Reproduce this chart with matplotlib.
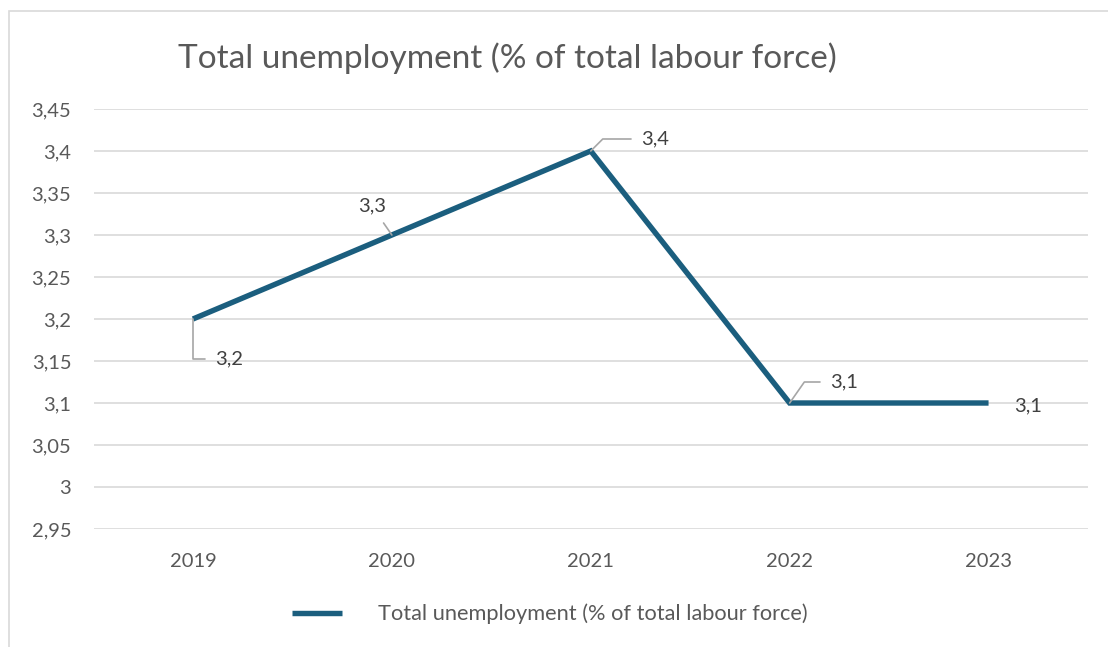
import matplotlib.pyplot as plt
from matplotlib.patches import Rectangle
from matplotlib.ticker import FuncFormatter

years = ['2019', '2020', '2021', '2022', '2023']
unemployment = [3.2, 3.3, 3.4, 3.1, 3.1]
series_name = 'Total unemployment (% of total labour force)'

# label offsets in pixels, and leader style for each point
label_offsets = [(36, -40), (-20, 29), (64, 12), (54, 21), (40, -3)]
leader_styles = ['angle,angleA=0,angleB=90,rad=0', 'arc3,rad=0',
                 'angle,angleA=0,angleB=45,rad=0', 'angle,angleA=0,angleB=55,rad=0', None]

plt.rcParams['font.family'] = ['Lato', 'DejaVu Sans']
line_color = '#1b5e7e'
text_grey = '#595959'

fig = plt.figure(figsize=(11.08, 6.47), dpi=100)
fig.patch.set_facecolor('white')
ax = fig.add_axes([93.5 / 1108, 118 / 647, 994.5 / 1108, 420 / 647])

# chart frame (only top and left edges fall inside the image)
fig.patches.append(Rectangle((9 / 1108, -0.1), 1.2, (647 - 11) / 647 + 0.1,
                             transform=fig.transFigure, fill=False,
                             edgecolor='#d9d9d9', linewidth=1.2))

x = list(range(len(years)))
ax.plot(x, unemployment, color=line_color, linewidth=3.9,
        solid_capstyle='butt', solid_joinstyle='miter', label=series_name, zorder=3)

for i, (v, off, style) in enumerate(zip(unemployment, label_offsets, leader_styles)):
    txt = f'{v:.1f}'.replace('.', ',')
    arrow = None
    if style:
        arrow = dict(arrowstyle='-', color='#a6a6a6', linewidth=1.2,
                     connectionstyle=style, shrinkA=5, shrinkB=0)
    ax.annotate(txt, (i, v), xytext=off, textcoords='offset pixels',
                ha='center', va='center', fontsize=14.5, color='#404040',
                arrowprops=arrow, zorder=4)

ax.set_xlim(-0.5, len(years) - 0.5)
ax.set_ylim(2.95, 3.45)
ax.set_xticks(x)
ax.set_xticklabels(years)
ax.set_yticks([2.95 + 0.05 * k for k in range(11)])
ax.yaxis.set_major_formatter(FuncFormatter(lambda v, p: f'{v:.2f}'.rstrip('0').rstrip('.').replace('.', ',')))
ax.tick_params(axis='both', length=0, labelsize=14.5, labelcolor=text_grey)
ax.tick_params(axis='y', pad=16)
ax.tick_params(axis='x', pad=17)
ax.grid(axis='y', color='#d9d9d9', linewidth=1.2)
ax.set_axisbelow(True)
for s in ax.spines.values():
    s.set_visible(False)

fig.text(507.5 / 1108, 1 - 68 / 647, series_name, ha='center', va='baseline',
         fontsize=24, color=text_grey)

fig.legend(loc='center', bbox_to_anchor=(550 / 1108, 1 - 614 / 647), frameon=False,
           fontsize=15.7, labelcolor=text_grey, handlelength=2.3, handletextpad=1.65)

fig.savefig('out.png', dpi=100, facecolor='white')
